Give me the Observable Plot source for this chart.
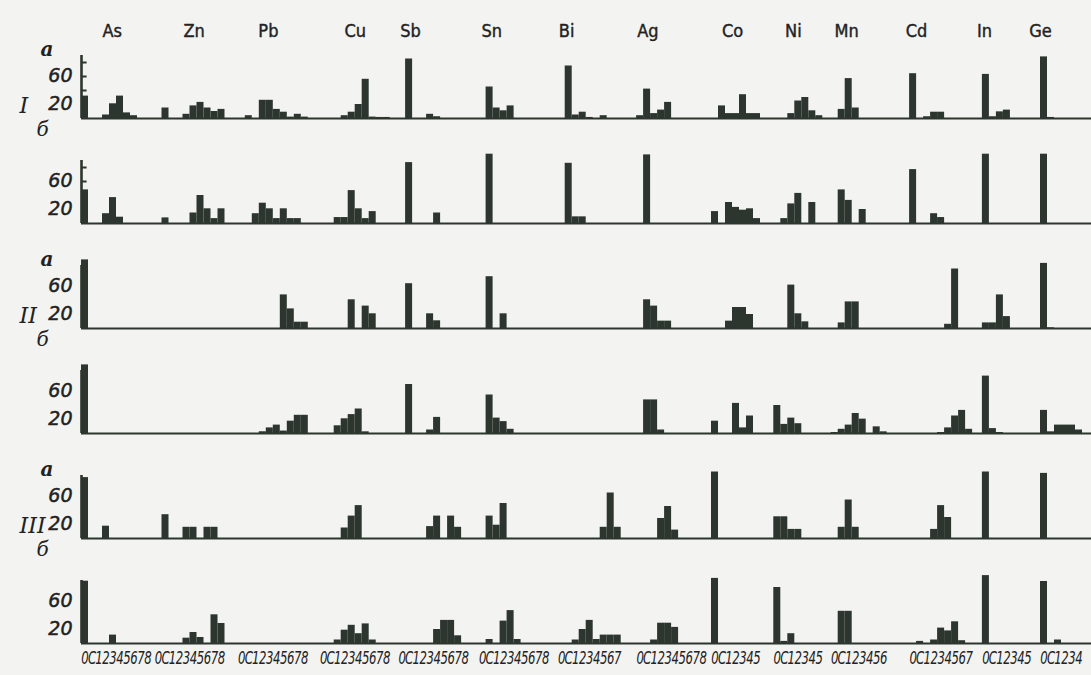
<!DOCTYPE html>
<html><head><meta charset="utf-8">
<script src="https://cdn.jsdelivr.net/npm/d3@7"></script>
<script src="https://cdn.jsdelivr.net/npm/@observablehq/plot@0.6"></script>
<style>
html,body{margin:0;padding:0;background:#f3f3f1;}
#chart svg{display:block;}
</style></head><body><div id="chart"></div>
<script>
// ---- data ----
const elements = ["As","Zn","Pb","Cu","Sb","Sn","Bi","Ag","Co","Ni","Mn","Cd","In","Ge"];
const binLabels = ["0C12345678","0C12345678","0C12345678","0C12345678","0C12345678","0C12345678",
  "0C1234567","0C12345678","0C12345","0C12345","0C123456","0C1234567","0C12345","0C1234"];
const rows = ["Ia","Ib","IIa","IIb","IIIa","IIIb"];
const rowNumerals = ["I","II","III"];
const subLabelA = "а";
const subLabelB = "б";
const yTicks = [20,40,60,80];
const yTickLabels = [20,60];

const vIa = [
 [32,0,0,5,21,32,8,4,0,0],
 [0,15,0,0,6,18,23,15,10,13],
 [0,4,0,26,26,13,9,2,6,2],
 [0,0,0,4,9,20,56,2,1.5,1.5],
 [0,85,0,0,6,2.5,0,0,0,0],
 [0,45,15,11,18,0,0,0,0,0],
 [0,75,5,9,1.5,0,4,0,0],
 [4,42,7,12,23,0,0,0,0,0],
 [0,18,7,7,34,7,7],
 [0,0,7,25,30,11,4],
 [0,13,57,15,0,0,0,0],
 [64,0,2.5,9,9,0,0,0,0],
 [63,2.5,9.5,12,0,0,0],
 [88,1.5,0,0,0,0]
];
const vIb = [
 [48,0,0,14,37,9,0,0,0,0],
 [0,8,0,0,0,15,40,21,7,21],
 [0,0,14,29,21,7,21,7,7,0],
 [0,0,8.5,8.5,47,21,7,17,0,0],
 [0,87,0,0,0,15,0,0,0,0],
 [0,99,0,0,0,0,0,0,0,0],
 [0,86,9.5,9.5,0,0,0,0,0],
 [0,98,0,0,0,0,0,0,0,0],
 [17,0,30,23,19,21,7],
 [0,7,28,43,0,30,0],
 [0,48,33,0,20,0,0,0],
 [77,0,0,14,8.5,0,0,0,0],
 [99,0,0,0,0,0,0],
 [99,0,0,0,0,0]
];
const vIIa = [
 [98,0,0,0,0,0,0,0,0,0],
 [0,0,0,0,0,0,0,0,0,0],
 [0,0,0,0,0,0,48,28,9,9],
 [0,0,0,0,41,0,32,21,0,0],
 [0,64,0,0,21,11,0,0,0,0],
 [0,74,0,21,0,0,0,0,0,0],
 [0,0,0,0,0,0,0,0,0],
 [0,41,32,10.5,10.5,0,0,0,0,0],
 [0,0,10.5,30,30,20,0],
 [0,0,62,21,9.5,0,0],
 [0,8,38,38,0,0,0,0],
 [0,0,0,0,0,6,85,0,0],
 [8,8,48,17,0,0,0],
 [93,1,0,0,0,0]
];
const vIIb = [
 [98,0,0,0,0,0,0,0,0,0],
 [0,0,0,0,0,0,0,0,0,0],
 [0,0,0,2.5,8,12,3.5,17.6,26,26],
 [0,0,11,21,27,35,2.4,0,0,0],
 [0,70,0,0,5,23,0,0,0,0],
 [0,55,22,17,6,0,0,0,0,0],
 [0,0,0,0,0,0,0,0,0],
 [0,48,48,5,0,0,0,0,0,0],
 [17.6,0,0,43,8,25,0],
 [40,13,22,14,0,0,0],
 [1.4,6,12,28.6,20.5,0,9.5,2.4],
 [0,0,0,0,1.4,8,25,33,6],
 [82,7,1.4,0,0,0,0],
 [33,2.4,12,12,12,5]
];
const vIIIa = [
 [87,0,0,17.6,0,0,0,0,0,0],
 [0,34,0,0,16,16,0,16,16,0],
 [0,0,0,0,0,0,0,0,0,0],
 [0,0,0,15,32,47,0,0,0,0],
 [0,0,0,0,17,32,0,32,16,0],
 [0,32,19,50,0,0,0,0,0,0],
 [0,0,0,0,0,0,16,65,16],
 [0,0,0,28.6,45.7,12,0,0,0,0],
 [95,0,0,0,0,0,0],
 [31,31,13,13,0,0,0],
 [0,16,55,16,0,0,0,0],
 [0,0,0,13,47,30,0,0,0],
 [95,0,0,0,0,0,0],
 [93,0,0,0,0,0]
];
const vIIIb = [
 [89,0,0,0,12,0,0,0,0,0],
 [0,0,0,0,7.6,15.7,8.6,0,41,28.6],
 [0,0,0,0,0,0,0,0,0,0],
 [0,0,5,19,26,14,28,5,0,0],
 [0,0,0,0,0,20,33,33,11,0],
 [0,5.7,0,32,47,5.7,0,0,0,0],
 [0,0,5,20,33,5.7,12,12,12],
 [0,0,5,29,29,23,0,0,0,0],
 [93,0,0,0,0,0,0],
 [80,3,14,0,0,0,0],
 [0,46,46,0,0,0,0,0],
 [0,3,0,5,22,18,31,4,0],
 [97,0,0,0,0,0,0],
 [88.6,0,5,0,0,0]
];

// ---- layout (in bin widths along the x scale) ----
const groupStart = [0,10.5,22.4,34.1,45.3,56.8,68.1,79.3,90,98.9,107.1,118.3,128.7,137];
const nameOffset = [4.4,5.6,4.3,5.0,1.7,1.8,1.2,1.6,3.0,2.8,2.2,1.0,0.3,0.0];

const ink = "#2c362e";
const textInk = "#222";

const rowValues = [vIa, vIb, vIIa, vIIb, vIIIa, vIIIb];
const bars = [];
rows.forEach((r, ri) => rowValues[ri].forEach((vals, gi) => vals.forEach((v, bi) => {
  if (v > 0) bars.push({row: r, element: elements[gi], x1: groupStart[gi] + bi, x2: groupStart[gi] + bi + 1, value: v});
})));

const tickValues = [];
const tickChar = new Map();
binLabels.forEach((s, gi) => [...s].forEach((ch, bi) => {
  const v = groupStart[gi] + bi + 0.5;
  tickValues.push(v); tickChar.set(v, ch);
}));

const rowTags = rowNumerals.map((n, i) => ({row: rows[i * 2], numeral: n}));
const names = elements.map((e, i) => ({row: rows[0], name: e, x: groupStart[i] + nameOffset[i]}));

const chart = Plot.plot({
  width: 1091,
  height: 675,
  marginTop: 47,
  marginBottom: 32,
  marginLeft: 81,
  marginRight: 0,
  style: {background: "#f3f3f1", overflow: "visible"},
  x: {domain: [0, 1010 / 7], axis: null},
  y: {domain: [0, 100], axis: null},
  fy: {domain: rows, axis: null, paddingInner: 0.3346, paddingOuter: 0},
  marks: [
    Plot.ruleY([0], {stroke: ink, strokeWidth: 1.8}),
    Plot.rectY(bars, {fy: "row", x1: "x1", x2: "x2", y: "value", fill: ink}),
    Plot.ruleX([0], {y1: 0, y2: 90, stroke: ink, strokeWidth: 2.6}),
    Plot.ruleY(yTicks, {y: d => d, x1: 0, x2: 0.8, stroke: ink, strokeWidth: 2}),
    Plot.text(yTickLabels, {y: d => d, text: d => String(d), frameAnchor: "left", dx: -9, dy: -1,
      textAnchor: "end", fontSize: 19, fontStyle: "italic", fontFamily: "DejaVu Sans, sans-serif",
      fill: textInk, stroke: textInk, strokeWidth: 0.5}),
    Plot.text(rowTags, {fy: "row", text: "numeral", frameAnchor: "bottom-left", dx: -62, dy: -6,
      fontSize: 22, fontStyle: "italic", fontFamily: "DejaVu Serif, serif", fill: textInk}),
    Plot.text(rowTags, {fy: "row", text: () => subLabelA, frameAnchor: "bottom-left", dx: -41, dy: -63,
      fontSize: 20, fontStyle: "italic", fontWeight: "bold", fontFamily: "DejaVu Serif, serif", fill: textInk}),
    Plot.text(rowTags, {fy: "row", text: () => subLabelB, frameAnchor: "bottom-left", dx: -45, dy: 17,
      fontSize: 20, fontStyle: "italic", fontFamily: "DejaVu Serif, serif", fill: textInk}),
    Plot.text(names, {fy: "row", x: "x", text: "name", frameAnchor: "top", dy: -24,
      fontSize: 18, fontFamily: "'DejaVu Sans Condensed', 'Liberation Sans Narrow', 'DejaVu Sans', sans-serif",
      fill: textInk, stroke: textInk, strokeWidth: 0.4}),
    Plot.axisX({ticks: tickValues, tickFormat: d => tickChar.get(d), tickSize: 0, tickPadding: 8, label: null,
      fontSize: 13, fontStyle: "italic", fontFamily: "'Liberation Sans Narrow', 'DejaVu Sans Condensed', sans-serif",
      fill: textInk, stroke: textInk, strokeWidth: 0.3})
  ]
});
// stretch the condensed bin labels vertically, like the drafting lettering of the original
d3.select(chart).selectAll('g[aria-label="x-axis tick label"] text')
  .attr("transform", function () { return (this.getAttribute("transform") || "") + " scale(1,1.4)"; });
document.getElementById("chart").append(chart);
</script></body></html>
